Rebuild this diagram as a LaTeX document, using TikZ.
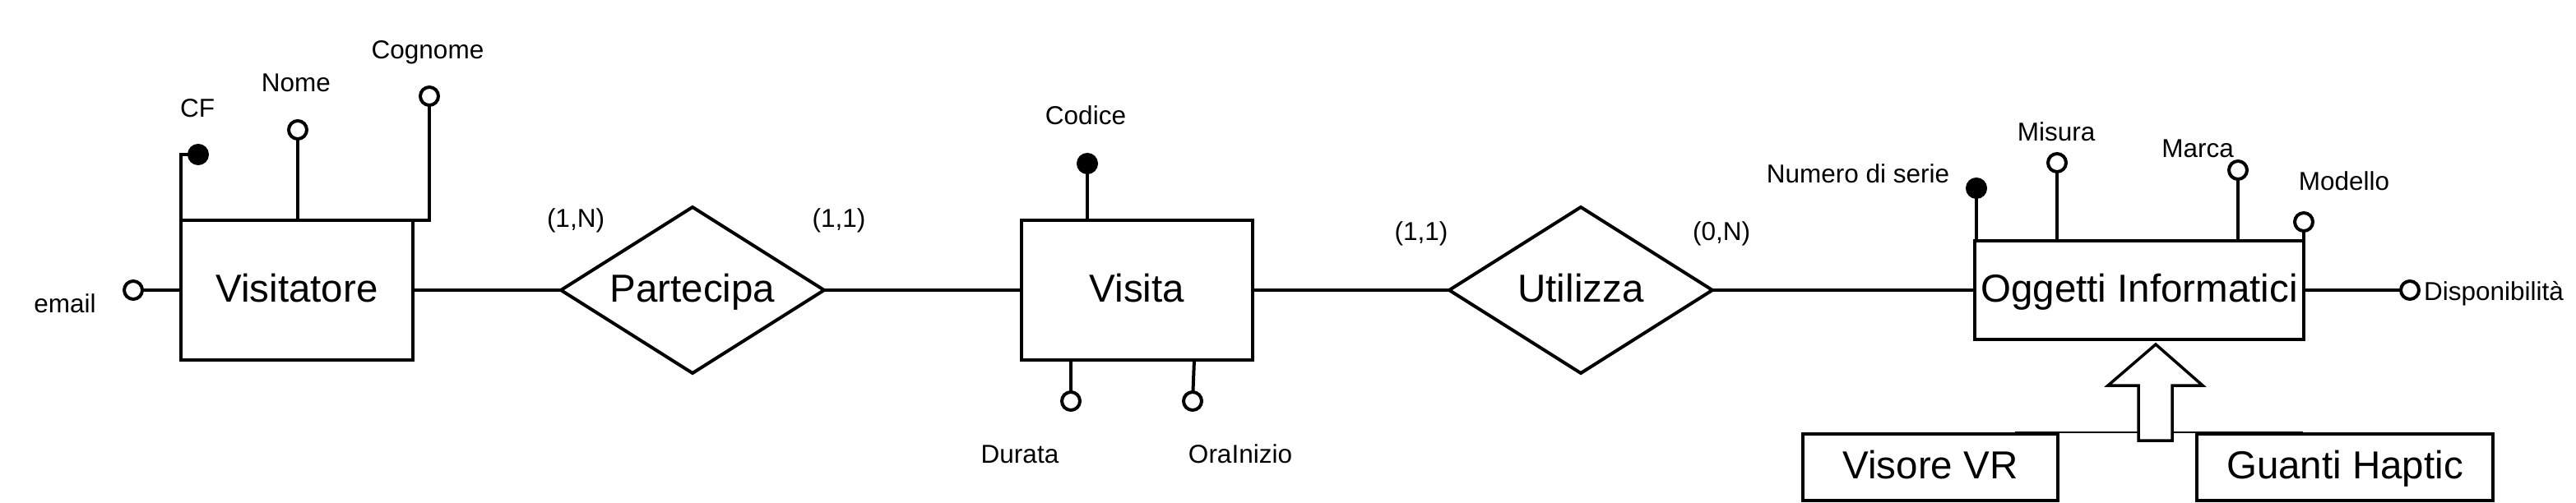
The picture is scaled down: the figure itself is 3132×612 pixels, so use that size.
\documentclass[tikz,border=0pt]{standalone}
\usepackage{fontspec}
\setmainfont{Liberation Sans}
\usetikzlibrary{shapes.geometric,calc}
\begin{document}
\begin{tikzpicture}[x=1pt,y=-1pt,
  every node/.style={inner sep=0pt, outer sep=0pt},
  conn/.style={line width=4pt},
  ent/.style={draw, line width=4pt, fill=white, font=\fontsize{47.5}{57}\selectfont, text height=34pt, text depth=6pt},
  rel/.style={draw, diamond, line width=4pt, fill=white, minimum width=320pt, minimum height=202pt, shape aspect=1.6, font=\fontsize{47.5}{57}\selectfont, text height=34pt, text depth=6pt},
  attr/.style={draw, circle, line width=4pt, fill=white, minimum size=22pt},
  keyattr/.style={attr, fill=black},
  lab/.style={anchor=base, font=\fontsize{31.5}{38}\selectfont},
]
\useasboundingbox[fill=white] (0,0) rectangle (3132,612);

% entities and relationships
\node[ent, minimum width=282pt, minimum height=170pt] (vis) at (361,353) {Visitatore};
\node[rel] (par) at (842,353) {Partecipa};
\node[ent, minimum width=281pt, minimum height=170pt] (visita) at (1382.5,353) {Visita};
\node[rel] (uti) at (1922,353) {Utilizza};
\node[ent, minimum width=400pt, minimum height=120pt] (ogg) at (2601,353) {Oggetti Informatici};

% generalisation
\coordinate (g1) at (2450,526);
\coordinate (g2) at (2800,526);
\draw[line width=2pt] (g1) -- (g2);
\node[ent, minimum width=310pt, minimum height=81pt] (vr) at (2347,568.5) {Visore VR};
\node[ent, minimum width=360pt, minimum height=81pt] (gh) at (2851,568.5) {Guanti Haptic};
\draw[line width=3.5pt, fill=white, line join=miter] (2600,536) -- (2600,469) -- (2563,469) -- (2621,419) -- (2678,469) -- (2641,469) -- (2641,536) -- cycle;

% attributes
\node[keyattr] (cf) at (241,188) {};
\node[attr] (nome) at (362,158) {};
\node[attr] (cog) at (522,117) {};
\node[attr] (email) at (162,353) {};
\node[keyattr] (cod) at (1322,199) {};
\node[attr] (dur) at (1302,488) {};
\node[attr] (ora) at (1450,488) {};
\coordinate (oratop) at (1452,438);
\node[keyattr] (ns) at (2403,229) {};
\node[attr] (mis) at (2501,198) {};
\node[attr] (mar) at (2721,207) {};
\node[attr] (mod) at (2801,270) {};
\node[attr] (disp) at (2930,353) {};

% connectors
\draw[conn] (vis.east) -- (par.west);
\draw[conn] (par.east) -- (visita.west);
\draw[conn] (visita.east) -- (uti.west);
\draw[conn] (uti.east) -- (ogg.west);
\draw[conn] (vis.north west) |- (cf);
\draw[conn] (nome) -- (nome |- vis.north);
\draw[conn] (cog) |- (vis.north east);
\draw[conn] (email) -- (vis.west);
\draw[conn] (cod) -- (cod |- visita.north);
\draw[conn] (dur) -- (dur |- visita.south);
\draw[conn] (ora) -- (oratop);
\draw[conn] (ns) -- (ns |- ogg.north);
\draw[conn] (mis) -- (mis |- ogg.north);
\draw[conn] (mar) -- (mar |- ogg.north);
\draw[conn] (mod) -- (ogg.north east);
\draw[conn] (ogg.east) -- (disp);

% labels
\node[lab] (tcf) at (240,143) {CF};
\node[lab] (tnome) at (360,112) {Nome};
\node[lab] (tcog) at (520,72) {Cognome};
\node[lab] (temail) at (79,380) {email};
\node[lab] (c1) at (700,277) {(1,N)};
\node[lab] (c2) at (1020,277) {(1,1)};
\node[lab] (tcod) at (1320,152) {Codice};
\node[lab] (tdur) at (1240,563) {Durata};
\node[lab] (tora) at (1508,563) {OraInizio};
\node[lab] (c3) at (1728,293) {(1,1)};
\node[lab] (c4) at (2093,293) {(0,N)};
\node[lab] (tns) at (2259,223) {Numero di serie};
\node[lab] (tmis) at (2500,172) {Misura};
\node[lab] (tmar) at (2672,192) {Marca};
\node[lab] (tmod) at (2850,232) {Modello};
\node[lab, anchor=base west] (tdisp) at (2947,365) {Disponibilità};
\end{tikzpicture}
\end{document}
